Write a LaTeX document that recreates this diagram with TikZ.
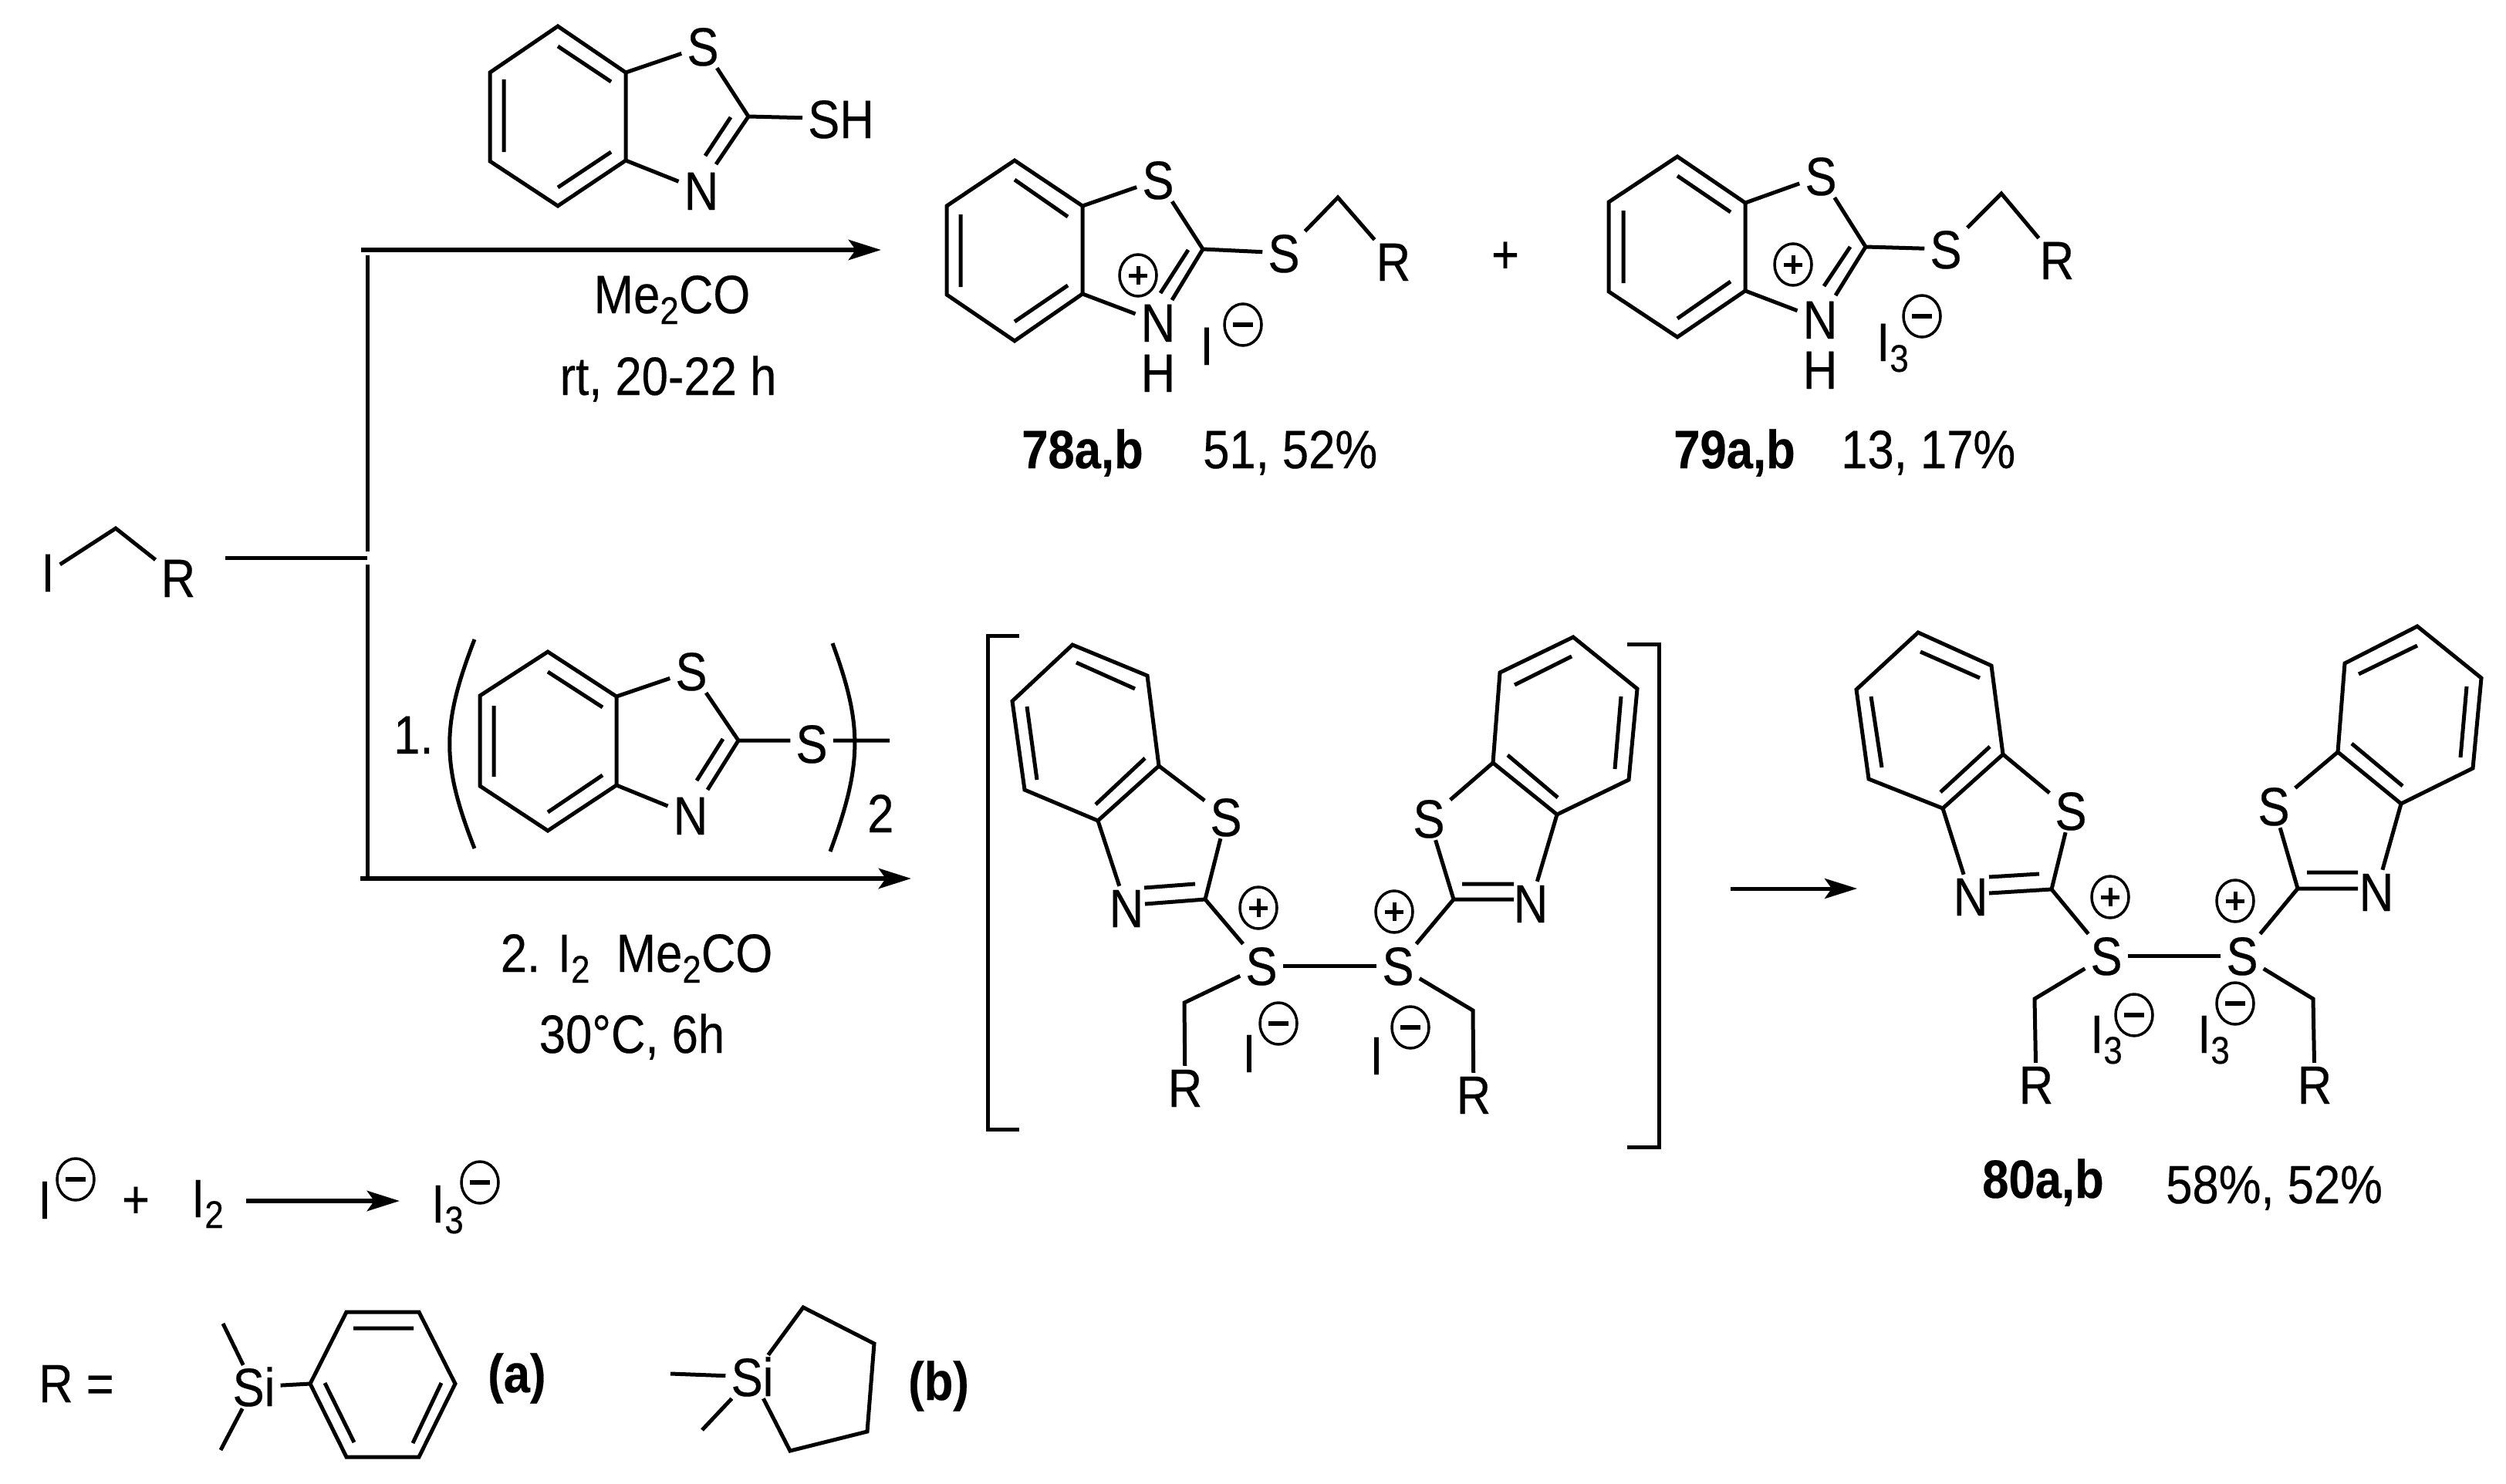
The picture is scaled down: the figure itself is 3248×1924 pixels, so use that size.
\documentclass[tikz,border=0pt]{standalone}
\usepackage{fontspec}
\setmainfont[FakeStretch=0.88,FakeBold=0.3]{Liberation Sans}
\usetikzlibrary{arrows.meta,shapes.geometric}
\newcommand\subs[1]{\raisebox{-14pt}{\fontsize{50}{50}\selectfont #1}}
\tikzset{
  atom/.style={inner xsep=7pt,inner ysep=3pt,text height=50pt,text depth=0pt,anchor=center},
  lbl/.style={inner sep=0pt,anchor=base west},
  clbl/.style={inner sep=0pt,anchor=base},
  bond/.style={line width=5pt,line join=miter,line cap=butt},
  rxn/.style={line width=6.5pt,-{Stealth[length=42pt,width=26pt,inset=9pt]}},
  lnk/.style={line width=5pt},
  chg/.style={ellipse,draw,line width=3.5pt,minimum width=48pt,minimum height=54pt,inner sep=0pt}
}
\newcommand\pluscharge[3]{\node[chg] (#1) at (#2,#3) {};\draw[line width=5pt,shift={(#2,#3)}] (-12,0) -- (12,0) (0,-12) -- (0,12);}
\newcommand\minuscharge[3]{\node[chg] (#1) at (#2,#3) {};\draw[line width=6.5pt,shift={(#2,#3)}] (-13,0) -- (13,0);}
\begin{document}
\begin{tikzpicture}[x=1pt,y=-1pt,every node/.style={font=\fontsize{70}{84}\selectfont}]
\useasboundingbox (0,0) rectangle (3248,1924);
\fill[white] (0,0) rectangle (3248,1924);

% --- top reagent
\draw[bond] (723,34) -- (811,94) -- (811,208) -- (723,267) -- (635,209) -- (635,94) -- cycle;
\draw[bond] (723,60) -- (792,106) (653,103) -- (653,197) (723,243) -- (792,197);
\coordinate (t7a) at (811,94); \coordinate (t3a) at (811,208); \coordinate (tC2) at (970,151);
\node[atom] (tS) at (911,60) {S};
\node[atom] (tN) at (909,247) {N};
\node[atom,anchor=west] (tSH) at (1040,154) {SH};
\draw[bond] (t7a) -- (tS) (tS) -- (tC2) (tC2) -- (928,213) (914,202) -- (947,152) (t3a) -- (tN) (tC2) -- (tSH);

% --- branching arrows
\coordinate (a1s) at (468,324); \coordinate (a1e) at (1142,324);
\coordinate (a2s) at (467,1139); \coordinate (a2e) at (1181,1139);
\coordinate (v1t) at (476,331); \coordinate (v1b) at (476,715);
\coordinate (v2t) at (476,732); \coordinate (v2b) at (476,1139);
\coordinate (hs) at (292,723); \coordinate (he) at (476,723);
\draw[rxn] (a1s) -- (a1e);
\draw[rxn] (a2s) -- (a2e);
\draw[lnk] (v1t) -- (v1b) (v2t) -- (v2b) (hs) -- (he);
\node[clbl] (c1) at (871,406) {Me\subs{2}CO};
\node[clbl] (c2) at (866,512) {rt, 20-22 h};

% --- iodide
\node[atom] (iI) at (62,742) {I};
\node[atom] (iR) at (231,749) {R};
\coordinate (iC) at (150,685);
\draw[bond] (iI) -- (iC) -- (iR);

% --- disulfide reagent
\draw[bond] (710,845) -- (799,903) -- (799,1018) -- (710,1077) -- (622,1019) -- (622,902) -- cycle;
\draw[bond] (710,871) -- (781,917) (640,915) -- (640,1007) (710,1053) -- (781,1005);
\coordinate (d7a) at (799,903); \coordinate (d3a) at (799,1018); \coordinate (dC2) at (957,960);
\node[atom] (dS) at (896,870) {S};
\node[atom] (dN) at (895,1057) {N};
\node[atom] (dSx) at (1052,964) {S};
\coordinate (dfree) at (1153,960);
\draw[bond] (d7a) -- (dS) (dS) -- (dC2) (dC2) -- (917,1024) (903,1012) -- (937,958) (d3a) -- (dN) (dC2) -- (dSx.west |- dC2) (dSx.east |- dfree) -- (dfree);
\draw[bond] (615,829) .. controls (572,940) and (572,990) .. (615,1100);
\draw[bond] (1079,834) .. controls (1118,940) and (1118,990) .. (1076,1104);
\node[lbl] (n1) at (510,977) {1.};
\node[lbl] (n2) at (1124,1079) {2};
\node[clbl] (c3) at (825,1260) {2. I\subs{2}\ \ Me\subs{2}CO};
\node[clbl] (c4) at (819,1365) {30°C, 6h};

% --- product 78
\draw[bond] (1315,208) -- (1403,267) -- (1403,381) -- (1315,442) -- (1227,382) -- (1227,267) -- cycle;
\draw[bond] (1315,233) -- (1384,281) (1245,278) -- (1245,372) (1315,417) -- (1384,370);
\coordinate (p7a) at (1403,267); \coordinate (p3a) at (1403,381); \coordinate (pC2) at (1559,323);
\coordinate (pCH) at (1734,256);
\node[atom] (pS) at (1501,233) {S};
\node[atom,inner ysep=0pt] (pN) at (1501,418) {N};
\node[atom,inner ysep=0pt] (pH) at (1501,483) {H};
\node[atom] (pSx) at (1664,328) {S};
\node[atom] (pR) at (1806,339) {R};
\draw[bond] (p7a) -- (pS) (pS) -- (pC2) (pC2) -- (1519,389) (1540,324) -- (1504,380) (p3a) -- (pN) (pC2) -- (pSx) (pSx) -- (pCH) -- (pR);
\pluscharge{pP}{1475}{357}
\node[atom] (pI) at (1564,448) {I};
\minuscharge{pM}{1611}{421}
\node[lbl,font=\fontsize{70}{84}\selectfont\bfseries] (p78) at (1324,607) {78a,b};
\node[lbl] (py) at (1559,607) {51, 52\%};
\node[atom] (plus) at (1951,329) {+};

% --- product 79
\draw[bond] (2174,203) -- (2262,263) -- (2262,377) -- (2174,437) -- (2085,378) -- (2085,262) -- cycle;
\draw[bond] (2174,228) -- (2243,275) (2104,273) -- (2104,367) (2174,413) -- (2243,365);
\coordinate (q7a) at (2262,263); \coordinate (q3a) at (2262,377); \coordinate (qC2) at (2418,320);
\coordinate (qCH) at (2594,251);
\node[atom] (qS) at (2360,228) {S};
\node[atom,inner ysep=0pt] (qN) at (2359,414) {N};
\node[atom,inner ysep=0pt] (qH) at (2359,479) {H};
\node[atom] (qSx) at (2522,323) {S};
\node[atom] (qR) at (2666,337) {R};
\draw[bond] (q7a) -- (qS) (qS) -- (qC2) (qC2) -- (2379,383) (2398,320) -- (2364,371) (q3a) -- (qN) (qC2) -- (qSx) (qSx) -- (qCH) -- (qR);
\pluscharge{qP}{2324}{343}
\node[lbl] (qI) at (2432,468) {I\subs{3}};
\minuscharge{qM}{2491}{410}
\node[lbl,font=\fontsize{70}{84}\selectfont\bfseries] (q79) at (2169,607) {79a,b};
\node[lbl] (qy) at (2386,607) {13, 17\%};

% --- bracketed intermediate
\draw[bond] (1321,824) -- (1280,824) -- (1280,1464) -- (1321,1464);
\draw[bond] (2109,835) -- (2150,835) -- (2150,1487) -- (2109,1487);
\draw[bond] (1390,836) -- (1487,876) -- (1502,993) -- (1423,1064) -- (1328,1024) -- (1312,909) -- cycle;
\draw[bond] (1395,859) -- (1471,893) (1331,916) -- (1344,1011) (1420,1043) -- (1484,983);
\coordinate (m7a) at (1502,993); \coordinate (m3a) at (1423,1064); \coordinate (mC2) at (1562,1166);
\coordinate (mCH) at (1535,1300);
\node[atom] (mS) at (1589,1059) {S};
\node[atom] (mN) at (1460,1177) {N};
\node[atom] (mSp) at (1635,1252) {S};
\node[atom] (mR) at (1536,1410) {R};
\draw[bond] (m7a) -- (mS) (mS) -- (mC2) (mC2) -- (1484,1172) (1549,1146) -- (1483,1151) (m3a) -- (mN) (mC2) -- (mSp) (mSp) -- (mCH) -- (mR);
\pluscharge{mP}{1631}{1177}
\node[atom] (mI) at (1619,1365) {I};
\minuscharge{mM}{1657}{1327}

\draw[bond] (1935,989) -- (1944,872) -- (2039,826) -- (2122,893) -- (2111,1011) -- (2018,1056) -- cycle;
\draw[bond] (1963,888) -- (2037,851) (2101,903) -- (2093,997) (2019,1034) -- (1954,979);
\coordinate (n7a) at (1935,989); \coordinate (n3a) at (2018,1056); \coordinate (nC2) at (1884,1166);
\coordinate (nCH) at (1909,1310);
\node[atom] (nS) at (1852,1061) {S};
\node[atom] (nN) at (1984,1171) {N};
\node[atom] (nSp) at (1812,1252) {S};
\node[atom] (nR) at (1910,1419) {R};
\draw[bond] (n7a) -- (nS) (nS) -- (nC2) (nC2) -- (1962,1166) (1895,1146) -- (1962,1146) (n3a) -- (nN) (nC2) -- (nSp) (nSp) -- (nCH) -- (nR);
\draw[bond] (mSp) -- (nSp);
\pluscharge{nP}{1807}{1182}
\node[atom] (nI) at (1784,1368) {I};
\minuscharge{nM}{1828}{1332}

% --- arrow to 80
\coordinate (a3s) at (2243,1152); \coordinate (a3e) at (2407,1152);
\draw[rxn,line width=5pt] (a3s) -- (a3e);

% --- product 80
\draw[bond] (2486,820) -- (2581,863) -- (2596,978) -- (2518,1048) -- (2422,1010) -- (2406,894) -- cycle;
\draw[bond] (2489,845) -- (2566,879) (2425,903) -- (2439,995) (2515,1027) -- (2579,968);
\coordinate (r7a) at (2596,978); \coordinate (r3a) at (2518,1048); \coordinate (rC2) at (2659,1153);
\coordinate (rCH) at (2637,1295);
\node[atom] (rS) at (2684,1051) {S};
\node[atom] (rN) at (2554,1162) {N};
\node[atom] (rSp) at (2730,1239) {S};
\node[atom] (rR) at (2639,1406) {R};
\draw[bond] (r7a) -- (rS) (rS) -- (rC2) (rC2) -- (2578,1158) (2643,1133) -- (2578,1137) (r3a) -- (rN) (rC2) -- (rSp) (rSp) -- (rCH) -- (rR);
\pluscharge{rP}{2735}{1163}
\node[lbl] (rI) at (2709,1365) {I\subs{3}};
\minuscharge{rM}{2766}{1316}

\draw[bond] (3030,975) -- (3039,860) -- (3133,812) -- (3216,879) -- (3205,996) -- (3112,1042) -- cycle;
\draw[bond] (3057,874) -- (3133,837) (3197,890) -- (3189,982) (3114,1019) -- (3048,964);
\coordinate (s7a) at (3030,975); \coordinate (s3a) at (3112,1042); \coordinate (sC2) at (2978,1152);
\coordinate (sCH) at (2998,1295);
\node[atom] (sS) at (2947,1045) {S};
\node[atom] (sN) at (3080,1156) {N};
\node[atom] (sSp) at (2906,1239) {S};
\node[atom] (sR) at (3000,1406) {R};
\draw[bond] (s7a) -- (sS) (sS) -- (sC2) (sC2) -- (3056,1152) (2990,1131) -- (3056,1131) (s3a) -- (sN) (sC2) -- (sSp) (sSp) -- (sCH) -- (sR);
\draw[bond] (rSp) -- (sSp);
\pluscharge{sP}{2897}{1168}
\node[lbl] (sI) at (2848,1365) {I\subs{3}};
\minuscharge{sM}{2897}{1301}
\node[lbl,font=\fontsize{70}{84}\selectfont\bfseries] (r80) at (2569,1553) {80a,b};
\node[lbl] (ry) at (2807,1560) {58\%, 52\%};

% --- bottom equation
\node[atom] (eI) at (58,1555) {I};
\minuscharge{eM}{98}{1529}
\node[atom] (ep) at (176,1554) {+};
\node[lbl] (eI2) at (248,1578) {I\subs{2}};
\coordinate (a4s) at (319,1557); \coordinate (a4e) at (518,1557);
\draw[rxn] (a4s) -- (a4e);
\node[lbl] (eI3) at (559,1585) {I\subs{3}};
\minuscharge{eN}{622}{1533}

% --- R groups
\node[lbl] (Req) at (50,1818) {R =};
\node[atom] (aSi) at (329,1798) {Si};
\coordinate (aM1) at (289,1716); \coordinate (aM2) at (286,1880);
\coordinate (aC) at (402,1794);
\draw[bond] (aM1) -- (aSi) (aM2) -- (aSi) (aSi) -- (aC);
\draw[bond] (402,1794) -- (449,1701) -- (543,1701) -- (590,1794) -- (543,1889) -- (449,1889) -- cycle;
\draw[bond] (458,1722) -- (536,1722) (421,1793) -- (459,1870) (572,1793) -- (535,1871);
\node[lbl,font=\fontsize{70}{84}\selectfont\bfseries] (la) at (632,1805) {(a)};
\node[atom] (bSi) at (975,1785) {Si};
\coordinate (bM1) at (869,1781); \coordinate (bM2) at (910,1854);
\draw[bond] (bM1) -- (bSi) (bM2) -- (bSi);
\coordinate (b1) at (1041,1695); \coordinate (b4) at (1024,1881);
\draw[bond] (bSi) -- (b1) -- (1133,1742) -- (1124,1856) -- (b4) -- (bSi);
\node[lbl,font=\fontsize{70}{84}\selectfont\bfseries] (lb) at (1177,1815) {(b)};
\end{tikzpicture}
\end{document}
